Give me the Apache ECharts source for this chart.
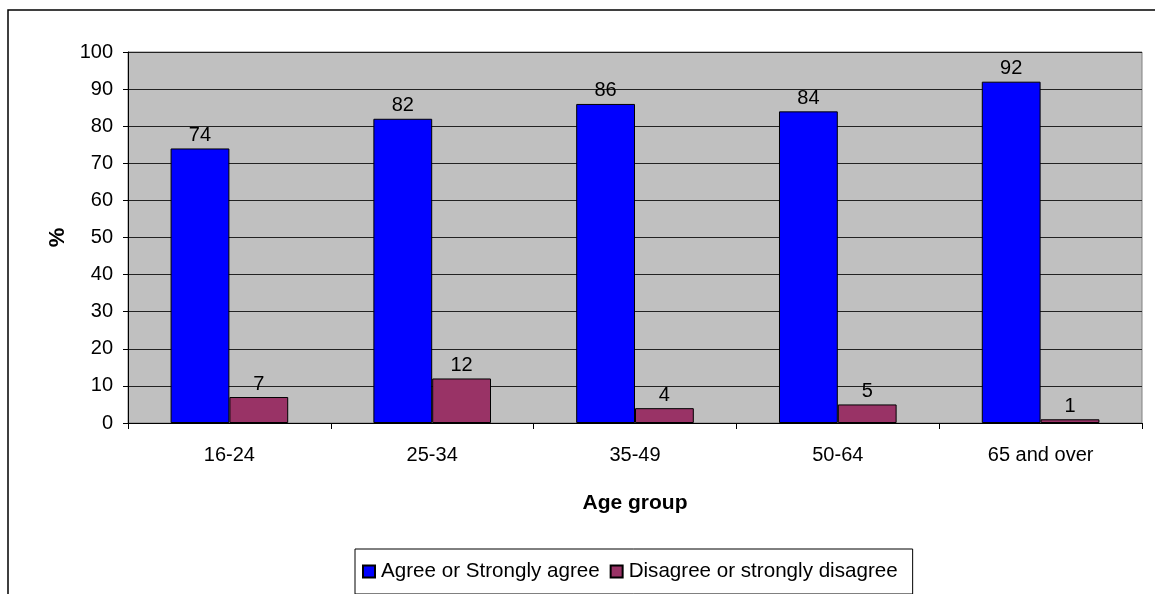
<!DOCTYPE html>
<html>
<head>
<meta charset="utf-8">
<script src="https://cdn.jsdelivr.net/npm/echarts@6/dist/echarts.min.js"></script>
<style>
  html, body { margin: 0; padding: 0; background: #ffffff; }
  #chart { width: 1155px; height: 594px; }
</style>
</head>
<body>
<div id="chart"></div>
<script>
// Age groups along the x axis
const ageGroups = ['16-24', '25-34', '35-49', '50-64', '65 and over'];
// Percentages per age group
const agreeValues = [74, 82, 86, 84, 92];
const disagreeValues = [7, 12, 4, 5, 1];
const seriesNames = ['Agree or Strongly agree', 'Disagree or strongly disagree'];
// Y axis range and step
const yMin = 0, yMax = 100, yStep = 10;

const FONT = '"Liberation Sans", Arial, sans-serif';
const chart = echarts.init(document.getElementById('chart'), null, { renderer: 'canvas' });

const labelStyle = {
  show: true,
  position: 'top',
  distance: 3,
  color: '#000',
  fontFamily: FONT,
  fontSize: 20
};

chart.setOption({
  animation: false,
  backgroundColor: '#ffffff',
  textStyle: { fontFamily: FONT },
  graphic: [
    {
      // outer chart frame
      type: 'rect',
      shape: { x: 8, y: 10, width: 1300, height: 700 },
      style: { fill: 'none', stroke: '#000', lineWidth: 1.5 },
      silent: true,
      z: -1
    }
  ],
  grid: {
    left: 128, right: 13, top: 52, bottom: 171,
    show: true,
    backgroundColor: '#c0c0c0',
    borderColor: '#808080',
    borderWidth: 1
  },
  legend: {
    left: 355, top: 549,
    padding: [12, 15, 12, 7],
    borderColor: '#000', borderWidth: 1,
    itemWidth: 12, itemHeight: 12, itemGap: 10,
    icon: 'rect',
    textStyle: { fontFamily: FONT, fontSize: 20.6, color: '#000', padding: [0, 0, 0, 1] },
    data: seriesNames
  },
  xAxis: {
    type: 'category',
    data: ageGroups,
    name: 'Age group',
    nameLocation: 'middle',
    nameGap: 70,
    nameTextStyle: { fontFamily: FONT, fontSize: 21, fontWeight: 'bold', color: '#000' },
    axisLine: { lineStyle: { color: '#000', width: 1 } },
    axisTick: { show: true, alignWithLabel: false, length: 6, lineStyle: { color: '#000' } },
    axisLabel: { color: '#000', fontFamily: FONT, fontSize: 20, margin: 22 }
  },
  yAxis: {
    type: 'value',
    min: yMin, max: yMax, interval: yStep,
    name: '%',
    nameLocation: 'middle',
    nameGap: 54,
    nameRotate: 90,
    nameTextStyle: { fontFamily: FONT, fontSize: 22, fontWeight: 'bold', color: '#000' },
    axisLine: { show: true, lineStyle: { color: '#000', width: 1 } },
    axisTick: { show: true, length: 5, lineStyle: { color: '#000' } },
    axisLabel: { color: '#000', fontFamily: FONT, fontSize: 20, margin: 15 },
    splitLine: { show: true, lineStyle: { color: '#222', width: 1 } }
  },
  series: [
    {
      name: seriesNames[0],
      type: 'bar',
      data: agreeValues,
      barGap: '0%',
      barCategoryGap: '42%',
      itemStyle: { color: '#0000ff', borderColor: '#000', borderWidth: 1 },
      label: labelStyle
    },
    {
      name: seriesNames[1],
      type: 'bar',
      data: disagreeValues,
      itemStyle: { color: '#993366', borderColor: '#000', borderWidth: 1 },
      label: labelStyle
    }
  ]
});
</script>
</body>
</html>
